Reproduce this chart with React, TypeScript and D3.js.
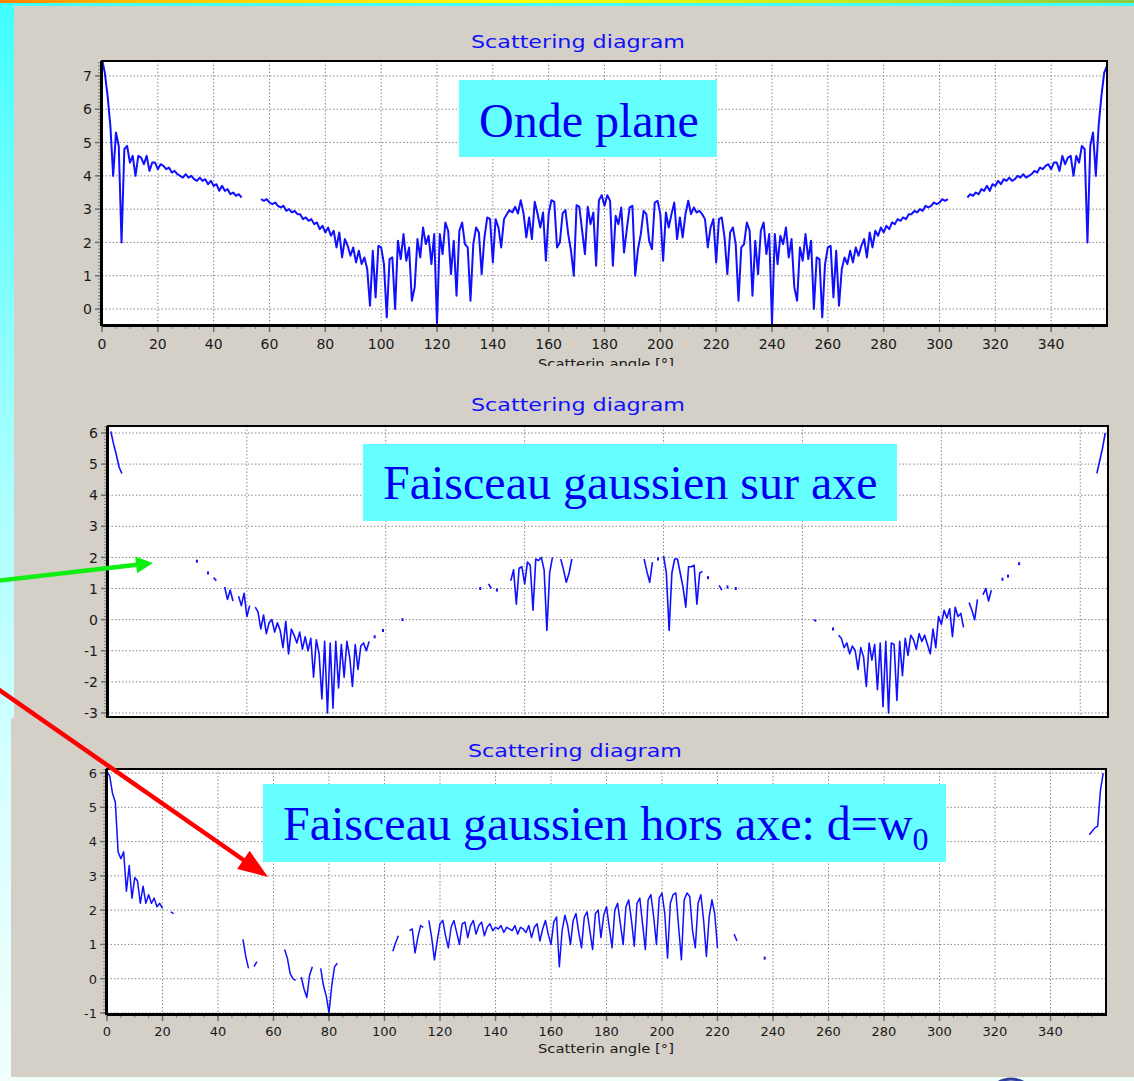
import React from 'react';
import * as d3 from 'd3';

type Seg = { start: number; v: number[] };

// ---------- DATA (angle in degrees = start + index, 1° step) ----------
const planeWave: Seg[] = [
  { start: 0, v: [7.5, 7.1, 6.4, 5.5, 4.0, 5.3, 4.9, 2.0, 4.8, 4.9, 4.4, 4.6, 4.0, 4.6, 4.55, 4.35, 4.6, 4.15, 4.4, 4.4,
    4.2, 4.35, 4.3, 4.2, 4.25, 4.1, 4.15, 4.05, 4.0, 3.95, 4.05, 3.95, 4.0, 3.9, 3.85, 3.95, 3.85, 3.9, 3.75, 3.85,
    3.7, 3.75, 3.55, 3.7, 3.55, 3.6, 3.45, 3.5, 3.4, 3.45, 3.35] },
  { start: 57, v: [3.3, 3.25, 3.3, 3.2, 3.15, 3.2, 3.1, 3.05, 3.1, 2.95, 3.0, 2.9, 2.95, 2.85, 2.85, 2.7, 2.75, 2.65, 2.7, 2.55,
    2.6, 2.4, 2.5, 2.3, 2.45, 2.2, 2.35, 1.85, 2.3, 1.55, 2.1, 1.9, 1.6, 1.85, 1.4, 1.75, 1.35, 1.55, 1.2, 0.1,
    1.75, 0.35, 1.9, 1.85, 1.35, -0.25, 1.5, 1.55, 0.0, 2.05, 1.5, 2.25, 1.45, 1.85, 0.25, 0.65, 2.1, 1.55, 2.45, 1.95,
    2.2, 1.35, 2.25, -0.45, 2.25, 1.65, 2.6, 2.35, 1.05, 2.05, 0.4, 2.35, 2.6, 1.95, 1.85, 0.25, 1.95, 2.45, 2.3, 1.05,
    2.15, 2.75, 2.7, 1.4, 2.7, 2.45, 1.85, 2.7, 2.85, 2.97, 2.9, 3.07, 2.87, 3.27, 2.87, 2.15, 2.75, 2.1, 3.22, 2.87,
    2.45, 2.9, 1.45, 2.87, 3.27, 3.22, 1.85, 2.0, 2.87, 2.97, 2.25, 1.75, 1.0, 3.12, 3.07, 2.35, 1.65, 3.07, 2.55, 2.9,
    1.3, 3.27, 3.42, 3.1,
    3.42, 3.25, 1.3, 2.8, 2.55, 3.05, 1.7, 2.4, 3.05, 3.1, 1.0, 1.8, 2.25, 2.95, 2.85, 2.05, 1.8, 3.2, 3.25, 2.85,
    1.45, 2.9, 2.45, 2.85, 3.2, 2.1, 2.75, 2.15, 2.85, 3.25, 2.85, 3.05, 2.9, 2.95, 2.85, 2.7, 1.85, 2.45, 2.7, 1.4,
    2.7, 2.75, 2.15, 1.05, 2.3, 2.45, 1.95, 0.25, 1.85, 1.95, 2.6, 2.35, 0.4, 2.05, 1.05, 2.35, 2.6, 1.65, 2.25, -0.45,
    2.25, 1.35, 2.2, 1.95, 2.45, 1.55, 2.1, 0.65, 0.25, 1.85, 1.45, 2.25, 1.5, 2.05, 0.0, 1.55, 1.5, -0.25, 1.35, 1.85,
    1.9, 0.35, 1.75, 0.1, 1.2, 1.55, 1.35, 1.75, 1.4, 1.85, 1.6, 1.9, 2.1, 1.55, 2.3, 1.85, 2.35, 2.2, 2.45, 2.3,
    2.5, 2.4, 2.6, 2.55, 2.7, 2.65, 2.75, 2.7, 2.85, 2.85, 2.95, 2.9, 3.0, 2.95, 3.1, 3.05, 3.1, 3.2, 3.15, 3.2,
    3.3, 3.25, 3.3] },
  { start: 310, v: [3.35, 3.45, 3.4, 3.5, 3.45, 3.6, 3.55, 3.7, 3.55, 3.75, 3.7, 3.85, 3.75, 3.9, 3.85, 3.95, 3.85, 3.9, 4.0, 3.95,
    4.05, 3.95, 4.0, 4.05, 4.15, 4.1, 4.25, 4.2, 4.3, 4.35, 4.2, 4.4, 4.4, 4.15, 4.6, 4.35, 4.55, 4.6, 4.0, 4.6,
    4.4, 4.9, 4.8, 2.0, 4.9, 5.3, 4.0, 5.5, 6.4, 7.1, 7.3] },
];

const gaussOnAxis: Seg[] = [
  { start: 1, v: [6.05, 5.65, 5.3, 4.9, 4.7] },
  { start: 32, v: [1.88] },
  { start: 36, v: [1.5] },
  { start: 38, v: [1.35, 1.25] },
  { start: 42, v: [1.05, 0.65, 0.95, 0.6] },
  { start: 47, v: [0.75, 0.45, 0.85, 0.1, 0.45] },
  { start: 53, v: [0.4, 0.25, -0.3, 0.15, -0.45, -0.1, 0.0, -0.4, -0.1, -0.35, -0.9, -0.05, -1.1, -0.3, -0.5, -0.75, -0.4, -0.95,
    -0.55, -1.0, -0.6, -1.85, -0.65, -1.1, -2.55, -0.7, -3.0, -0.75, -2.85, -0.7, -2.2, -0.8, -1.85, -0.7, -1.2, -2.15,
    -0.8, -1.6, -0.85, -0.75, -1.0, -0.7] },
  { start: 96, v: [-0.55] },
  { start: 99, v: [-0.35] },
  { start: 106, v: [0.0] },
  { start: 134, v: [1.0] },
  { start: 137, v: [1.15, 1.0] },
  { start: 140, v: [0.95] },
  { start: 145, v: [1.25, 1.6, 0.5, 1.65, 1.7, 1.15, 1.85, 1.75, 0.3, 1.95, 1.9, 2.0, 1.6, -0.35, 1.5, 2.0] },
  { start: 163, v: [1.95, 1.6, 1.2, 1.5, 1.95] },
  { start: 193, v: [1.95, 1.55, 1.2, 1.85] },
  { start: 198, v: [1.95] },
  { start: 200, v: [2.05, 1.5, -0.35, 1.5, 1.95, 1.95, 1.5, 1.05, 0.4, 1.7, 1.7, 1.75, 0.5, 1.5, 1.55] },
  { start: 216, v: [1.35] },
  { start: 220, v: [1.1, 0.95] },
  { start: 223, v: [1.05] },
  { start: 226, v: [1.0] },
  { start: 254, v: [0.0, -0.05] },
  { start: 261, v: [-0.3] },
  { start: 263, v: [-0.5, -0.6, -0.9, -0.75, -1.1, -0.85, -1.0, -1.6, -0.9, -1.2, -2.15, -0.75, -1.3, -0.8, -2.25, -0.75,
    -2.8, -0.7, -3.0, -0.75, -0.8, -2.6, -0.7, -1.8, -0.6, -1.15, -0.5, -0.65, -0.95, -0.45, -0.7, -0.5, -0.8, -1.1,
    -0.3, -0.9, 0.1, -0.15, 0.3, 0.05, 0.35, -0.55, 0.4, 0.1, 0.2, -0.25] },
  { start: 310, v: [0.55, 0.3, 0.0, 0.65] },
  { start: 315, v: [0.8, 1.0, 0.6, 0.95] },
  { start: 322, v: [1.3] },
  { start: 324, v: [1.4] },
  { start: 328, v: [1.8] },
  { start: 356, v: [4.7, 5.1, 5.5, 6.0] },
];

const gaussOffAxis: Seg[] = [
  { start: 0, v: [6.05, 5.9, 5.4, 5.15, 3.7, 3.5, 3.7, 2.55, 3.3, 2.35, 2.95, 2.85, 2.2, 2.7, 2.2, 2.45, 2.2, 2.35, 2.1, 2.2, 2.05] },
  { start: 23, v: [1.95, 1.9] },
  { start: 49, v: [1.15, 0.65, 0.3] },
  { start: 53, v: [0.35, 0.5] },
  { start: 64, v: [0.85, 0.6, 0.15, 0.0, -0.05] },
  { start: 70, v: [0.05, -0.3, -0.55, 0.1, 0.35] },
  { start: 77, v: [0.3, -0.2, -0.5, -1.0, -0.2, 0.35, 0.45] },
  { start: 103, v: [0.8, 1.05, 1.25] },
  { start: 109, v: [1.4, 1.45, 0.75, 1.2, 1.55, 1.5] },
  { start: 116, v: [1.7, 1.2, 0.55, 1.1, 1.6, 1.7, 1.25, 0.9, 1.5, 1.7, 1.35, 1.0, 1.6, 1.65, 1.2, 1.55, 1.7, 1.3, 1.55, 1.65,
    1.25, 1.5, 1.6, 1.4, 1.5, 1.45, 1.55, 1.35, 1.5, 1.45, 1.4, 1.55, 1.3, 1.5, 1.45, 1.35, 1.55, 1.2, 1.5, 1.6,
    1.1, 1.45, 1.7, 1.3, 1.0, 1.65, 1.8, 0.35, 1.4, 1.85, 1.55, 1.0, 1.7, 1.9, 1.35, 0.9, 1.8, 1.95, 1.4, 0.85,
    1.9, 2.0, 1.2, 1.85, 2.1, 1.5, 0.9, 2.0, 2.2, 1.6, 1.0, 2.1, 2.3, 1.7, 0.95, 2.2, 2.35, 1.6, 0.85, 2.3,
    2.45, 1.8, 1.0, 2.35, 2.5, 1.9, 0.6, 2.2, 2.45, 2.5, 1.5, 0.55, 2.3, 2.5, 2.4, 1.4, 0.9, 2.2, 2.45, 1.7,
    0.65, 1.8, 2.3, 1.9, 0.9] },
  { start: 226, v: [1.3, 1.1] },
  { start: 237, v: [0.6] },
  { start: 354, v: [4.2, 4.3, 4.4, 4.45, 5.5, 6.0] },
];

const xTickLabels = [0, 20, 40, 60, 80, 100, 120, 140, 160, 180, 200, 220, 240, 260, 280, 300, 320, 340];
const xGridOnAxis = [50, 100, 150, 200, 250, 300, 350];
const yTicksPlane = [0, 1, 2, 3, 4, 5, 6, 7];
const yTicksOnAxis = [-3, -2, -1, 0, 1, 2, 3, 4, 5, 6];
const yTicksOffAxis = [-1, 0, 1, 2, 3, 4, 5, 6];
const chartTitle = 'Scattering diagram';
const xAxisTitle = 'Scatterin angle [°]';

// ---------- PANEL ----------
type PanelProps = {
  id: string;
  l: number; r: number; t: number; b: number;
  yDom: [number, number];
  yTicks: number[];
  xGrid: number[];
  xLabels: number[] | null;
  data: Seg[];
  lw: number;
  fs: number;
  titleY: number;
  titleX: number;
  xTitleY?: number;
  xTitleClip?: number;
  labelY?: number;
};

const BLUE = '#1010ff';
const SANS = 'DejaVu Sans, Verdana, sans-serif';

function Panel(p: PanelProps) {
  const x = d3.scaleLinear().domain([0, 360]).range([p.l, p.r]);
  const y = d3.scaleLinear().domain(p.yDom).range([p.b, p.t]);
  const segPath = (s: Seg) =>
    d3.line<number>().x((_, i) => x(s.start + i)).y(d => y(d))(s.v) || '';
  const minorY = d3.range(Math.ceil(p.yDom[0] * 10), Math.floor(p.yDom[1] * 10) + 1).map(k => k / 10);
  const minorX = d3.range(0, 360, 5);
  const grid = '#8a8a8a';
  return (
    <g>
      <defs>
        <clipPath id={'clip' + p.id}>
          <rect x={p.l} y={p.t} width={p.r - p.l} height={p.b - p.t} />
        </clipPath>
        {p.xTitleClip !== undefined && (
          <clipPath id={'tclip' + p.id}>
            <rect x={0} y={0} width={1134} height={p.xTitleClip} />
          </clipPath>
        )}
      </defs>
      <rect x={p.l} y={p.t} width={p.r - p.l} height={p.b - p.t} fill="#fff" />
      {p.yTicks.map(v => (
        <line key={'gy' + v} x1={p.l} x2={p.r} y1={y(v)} y2={y(v)} stroke={grid} strokeWidth={1} strokeDasharray="1.5,2" />
      ))}
      {p.xGrid.map(v => (
        <line key={'gx' + v} x1={x(v)} x2={x(v)} y1={p.t} y2={p.b} stroke={grid} strokeWidth={1} strokeDasharray="1.5,2" />
      ))}
      <g clipPath={`url(#clip${p.id})`}>
        {p.data.map((s, i) =>
          s.v.length > 1 ? (
            <path key={i} d={segPath(s)} fill="none" stroke={BLUE} strokeWidth={p.lw} strokeLinejoin="round" />
          ) : (
            <rect key={i} x={x(s.start) - 1} y={y(s.v[0]) - 1.5} width={2} height={3} fill={BLUE} />
          )
        )}
      </g>
      {minorY.map(v => (
        <line key={'my' + v} x1={p.l - 4} x2={p.l} y1={y(v)} y2={y(v)} stroke="#808080" strokeWidth={1} />
      ))}
      {p.yTicks.map(v => (
        <g key={'ty' + v}>
          <line x1={p.l - 7} x2={p.l} y1={y(v)} y2={y(v)} stroke="#707070" strokeWidth={1.5} />
          <text x={p.l - 10} y={y(v) + p.fs * 0.37} textAnchor="end" fontSize={p.fs} fontFamily={SANS} fill="#1a1a1a">
            {v}
          </text>
        </g>
      ))}
      {p.xLabels && minorX.map(v => (
        <line key={'mx' + v} x1={x(v)} x2={x(v)} y1={p.b} y2={p.b + 4} stroke="#808080" strokeWidth={1} />
      ))}
      {p.xLabels && p.xLabels.map(v => (
        <g key={'tx' + v}>
          <line x1={x(v)} x2={x(v)} y1={p.b} y2={p.b + 7} stroke="#707070" strokeWidth={1.5} />
          <text x={x(v)} y={p.labelY} textAnchor="middle" fontSize={p.fs} fontFamily={SANS} fill="#1a1a1a">
            {v}
          </text>
        </g>
      ))}
      <rect x={p.l} y={p.t} width={p.r - p.l} height={p.b - p.t} fill="none" stroke="#000" strokeWidth={2} />
      <line x1={p.l - 0.5} x2={p.l - 0.5} y1={p.t} y2={p.b + 1} stroke="#000" strokeWidth={3} />
      <line x1={p.l} x2={p.r + 1} y1={p.b + 0.5} y2={p.b + 0.5} stroke="#000" strokeWidth={3} />
      <text x={p.titleX} y={p.titleY} textAnchor="middle" fontSize={17} fontFamily={SANS} fill={BLUE}
        textLength={214} lengthAdjust="spacingAndGlyphs">
        {chartTitle}
      </text>
      {p.xTitleY !== undefined && (
        <g clipPath={p.xTitleClip !== undefined ? `url(#tclip${p.id})` : undefined}>
          <text x={606} y={p.xTitleY} textAnchor="middle" fontSize={p.fs} fontFamily={SANS} fill="#1a1a1a"
            textLength={136} lengthAdjust="spacingAndGlyphs">
            {xAxisTitle}
          </text>
        </g>
      )}
    </g>
  );
}

function arrowHead(x1: number, y1: number, x2: number, y2: number, len: number, half: number) {
  const dx = x2 - x1, dy = y2 - y1;
  const L = Math.hypot(dx, dy);
  const ux = dx / L, uy = dy / L;
  const bx = x2 - ux * len, by = y2 - uy * len;
  const px = -uy, py = ux;
  return {
    lineEnd: [x2 - ux * len * 0.7, y2 - uy * len * 0.7],
    pts: `${x2},${y2} ${bx + px * half},${by + py * half} ${bx - px * half},${by - py * half}`,
  };
}

const TEXT_BLUE = '#0000f0';
const BOX = '#66ffff';

export default function App() {
  const W = 1134, H = 1081;
  const g = arrowHead(-5, 581, 153, 563, 17, 8.5);
  const r = arrowHead(-5, 687, 268, 877, 30, 11);
  return (
    <svg width={W} height={H} style={{ position: 'absolute', left: 0, top: 0 }} xmlns="http://www.w3.org/2000/svg">
      <defs>
        <linearGradient id="strip" x1="0" y1="0" x2="0" y2="1">
          <stop offset="0" stopColor="#40ffff" />
          <stop offset="0.4" stopColor="#a0ffff" />
          <stop offset="0.7" stopColor="#d4ffff" />
          <stop offset="1" stopColor="#f2fffc" />
        </linearGradient>
        <linearGradient id="topbar" x1="0" y1="0" x2="1" y2="0">
          <stop offset="0" stopColor="#ff8000" />
          <stop offset="0.12" stopColor="#ffc000" />
          <stop offset="0.45" stopColor="#ffff00" />
          <stop offset="0.75" stopColor="#c8e820" />
          <stop offset="1" stopColor="#88cc44" />
        </linearGradient>
      </defs>
      <rect x={0} y={0} width={W} height={H} fill="#f2fff8" />
      <rect x={0} y={0} width={16} height={H} fill="url(#strip)" />
      <rect x={0} y={0} width={W} height={3} fill="url(#topbar)" />
      <rect x={0} y={3} width={W} height={3} fill="#40ffff" />
      <rect x={14} y={6} width={W - 14} height={712} fill="#d4d0c8" />
      <rect x={11} y={718} width={W - 11} height={359} fill="#d4d0c8" />
      <circle cx={1011} cy={1104} r={25} fill="#e8ecff" stroke="#3040a0" strokeWidth={3} />

      <Panel id="a" l={102} r={1107} t={61} b={325} yDom={[-0.48, 7.45]} yTicks={yTicksPlane}
        xGrid={xTickLabels.slice(1)} xLabels={xTickLabels} data={planeWave} lw={2} fs={14}
        titleY={48} titleX={578} labelY={349} xTitleY={369} xTitleClip={366} />
      <Panel id="b" l={108} r={1108} t={426} b={717} yDom={[-3.13, 6.225]} yTicks={yTicksOnAxis}
        xGrid={xGridOnAxis} xLabels={null} data={gaussOnAxis} lw={1.6} fs={14}
        titleY={411} titleX={578} />
      <rect x={11} y={718} width={W - 11} height={8} fill="#d4d0c8" />
      <Panel id="c" l={107} r={1106} t={769} b={1014} yDom={[-1.03, 6.117]} yTicks={yTicksOffAxis}
        xGrid={xTickLabels.slice(1)} xLabels={xTickLabels} data={gaussOffAxis} lw={1.5} fs={13}
        titleY={757} titleX={575} labelY={1036} xTitleY={1053} />

      <rect x={459} y={80} width={258} height={77} fill={BOX} />
      <text x={479} y={137} fontSize={48} fontFamily="Liberation Serif, Times New Roman, serif" fill={TEXT_BLUE}>Onde plane</text>
      <rect x={363} y={444} width={534} height={77} fill={BOX} />
      <text x={383} y={499} fontSize={48} fontFamily="Liberation Serif, Times New Roman, serif" fill={TEXT_BLUE}>Faisceau gaussien sur axe</text>
      <rect x={263} y={784} width={683} height={78} fill={BOX} />
      <text x={283} y={840} fontSize={48} fontFamily="Liberation Serif, Times New Roman, serif" fill={TEXT_BLUE}>
        Faisceau gaussien hors axe: d=w<tspan fontSize={32} dy={10}>0</tspan>
      </text>

      <line x1={-5} y1={581} x2={g.lineEnd[0]} y2={g.lineEnd[1]} stroke="#11ee11" strokeWidth={4.5} />
      <polygon points={g.pts} fill="#11ee11" />
      <line x1={-5} y1={687} x2={r.lineEnd[0]} y2={r.lineEnd[1]} stroke="#ff0000" strokeWidth={4.5} />
      <polygon points={r.pts} fill="#ff0000" />
    </svg>
  );
}
